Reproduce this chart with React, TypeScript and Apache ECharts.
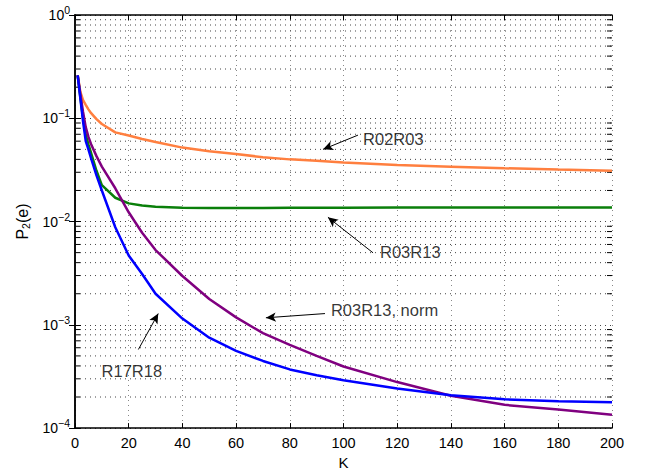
import React, { useEffect, useRef } from "react";
import * as echarts from "echarts";

// Number of users K on the horizontal axis
const kValues = [1, 2, 3, 4, 5, 6, 8, 10, 15, 20, 25, 30, 40, 50, 60, 70, 80, 90, 100, 120, 140, 160, 180, 200];

// Error probability P2(e) for each receiver configuration
const r02r03 = [0.26, 0.18, 0.15, 0.135, 0.122, 0.112, 0.098, 0.088, 0.073, 0.068, 0.063, 0.059, 0.052, 0.048, 0.045, 0.042, 0.04, 0.0387, 0.0374, 0.0352, 0.034, 0.0328, 0.0319, 0.0311];
const r03r13 = [0.26, 0.16, 0.1, 0.069, 0.056, 0.046, 0.031, 0.0225, 0.017, 0.015, 0.0143, 0.0139, 0.0136, 0.0135, 0.0135, 0.0135, 0.0136, 0.0136, 0.0136, 0.0137, 0.0137, 0.0137, 0.0137, 0.0137];
const r03r13Norm = [0.26, 0.17, 0.115, 0.082, 0.066, 0.056, 0.043, 0.034, 0.021, 0.0123, 0.0078, 0.0053, 0.00297, 0.00178, 0.00118, 0.00083, 0.00064, 0.0005, 0.000395, 0.000279, 0.000206, 0.000168, 0.000151, 0.000135];
const r17r18 = [0.26, 0.155, 0.093, 0.06, 0.05, 0.041, 0.028, 0.02, 0.0088, 0.0047, 0.0031, 0.002, 0.00115, 0.00075, 0.00056, 0.000447, 0.00037, 0.000325, 0.00029, 0.000242, 0.000208, 0.00019, 0.000182, 0.000178];

// Axis ranges and tick labels
const xTicks = [0, 20, 40, 60, 80, 100, 120, 140, 160, 180, 200];
const yDecades = [-4, -3, -2, -1, 0];

// Callout texts with their anchor, arrow tail and arrow head (data units)
const calloutTexts = ["R02R03", "R03R13", "R03R13, norm", "R17R18"];
const calloutAnchors = [[107.3, 0.0625], [113.6, 0.00512], [95.3, 0.00138], [9.9, 0.000355]];
const arrowTails = [[105.4, 0.0687], [111, 0.00498], [93.1, 0.001285], [23.6, 0.000577]];
const arrowHeads = [[92.4, 0.05], [94.2, 0.011], [71.1, 0.00117], [31.0, 0.001285]];

const FONT = "'Liberation Sans', Arial, Helvetica, sans-serif";

const xMin = xTicks[0];
const xMax = xTicks[xTicks.length - 1];
const yMin = Math.pow(10, yDecades[0]);
const yMax = Math.pow(10, yDecades[yDecades.length - 1]);

// Minor log ticks 2..9 within every decade
const minorValues: number[] = [];
for (let i = 0; i < yDecades.length - 1; i++) {
  for (let m = 2; m <= 9; m++) minorValues.push(m * Math.pow(10, yDecades[i]));
}

const pairs = (ys: number[]) => kValues.map((k, i) => [k, ys[i]]);

const expLabel = (v: number) => {
  const e = Math.round(Math.log10(v));
  const s = e < 0 ? "\u2212" + -e : String(e);
  return `{b|10}{sup|${s}}`;
};

export default function App() {
  const ref = useRef<HTMLDivElement>(null);

  useEffect(() => {
    if (!ref.current) return;
    const chart = echarts.init(ref.current, undefined, { renderer: "svg" });

    const dotted = { color: "#444", width: 1, type: [1, 4] as number[] };

    const lineSeries = (name: string, ys: number[], color: string) => ({
      name,
      type: "line",
      data: pairs(ys),
      showSymbol: false,
      symbol: "none",
      lineStyle: { color, width: 2.5 },
      z: 5,
      silent: true,
    });

    chart.setOption({
      animation: false,
      backgroundColor: "#fff",
      textStyle: { fontFamily: FONT },
      grid: { left: 75, right: 36, top: 15, bottom: 38, containLabel: false },
      xAxis: [
        {
          type: "value",
          min: xMin,
          max: xMax,
          interval: 20,
          name: "K",
          nameLocation: "middle",
          nameGap: 23,
          nameTextStyle: { fontSize: 15, color: "#000", fontFamily: FONT },
          axisLine: { lineStyle: { color: "#000", width: 1.5 } },
          axisTick: { inside: true, length: 5, lineStyle: { color: "#000" } },
          axisLabel: { fontSize: 14.5, color: "#000", margin: 7, fontFamily: FONT },
          splitLine: { show: true, lineStyle: { color: "#888", width: 1, type: [1, 4] } },
        },
        {
          type: "value",
          position: "top",
          min: xMin,
          max: xMax,
          interval: 20,
          axisLine: { lineStyle: { color: "#000", width: 1.5 } },
          axisTick: { inside: true, length: 5, lineStyle: { color: "#000" } },
          axisLabel: { show: false },
          splitLine: { show: false },
        },
      ],
      yAxis: [
        {
          type: "log",
          logBase: 10,
          min: yMin,
          max: yMax,
          splitNumber: 4,
          name: "{p|P}{s|2}{p|(e)}",
          nameLocation: "middle",
          nameGap: 42,
          nameTextStyle: {
            color: "#000",
            fontFamily: FONT,
            rich: {
              p: { fontSize: 16, color: "#000", fontFamily: FONT },
              s: { fontSize: 10.5, color: "#000", fontFamily: FONT, padding: [8, 0, 0, 0] },
            },
          },
          axisLine: { lineStyle: { color: "#000", width: 1.5 } },
          axisTick: { inside: true, length: 6, lineStyle: { color: "#000" } },
          axisLabel: {
            margin: 5,
            formatter: expLabel,
            rich: {
              b: { fontSize: 14, color: "#000", fontFamily: FONT },
              sup: { fontSize: 10.5, color: "#000", fontFamily: FONT, padding: [0, 0, 10, 0] },
            },
          },
          splitLine: { show: true, lineStyle: dotted },
        },
        {
          type: "log",
          logBase: 10,
          position: "right",
          min: yMin,
          max: yMax,
          splitNumber: 4,
          axisLine: { lineStyle: { color: "#000", width: 1.5 } },
          axisTick: { inside: true, length: 6, lineStyle: { color: "#000" } },
          axisLabel: { show: false },
          splitLine: { show: false },
        },
      ],
      series: [
        {
          // minor grid lines and minor ticks on both vertical axes
          type: "custom",
          silent: true,
          z: 1,
          data: minorValues.map((v) => [xMin, v]),
          encode: { x: 0, y: 1 },
          renderItem: (_params: any, api: any) => {
            const v = api.value(1);
            const p0 = api.coord([xMin, v]);
            const p1 = api.coord([xMax, v]);
            return {
              type: "group",
              children: [
                {
                  type: "line",
                  shape: { x1: p0[0], y1: p0[1], x2: p1[0], y2: p1[1] },
                  style: { stroke: "#444", lineWidth: 1, lineDash: [1, 4] },
                },
                {
                  type: "line",
                  shape: { x1: p0[0], y1: p0[1], x2: p0[0] + 5, y2: p0[1] },
                  style: { stroke: "#000", lineWidth: 1 },
                },
                {
                  type: "line",
                  shape: { x1: p1[0] - 5, y1: p1[1], x2: p1[0], y2: p1[1] },
                  style: { stroke: "#000", lineWidth: 1 },
                },
              ],
            };
          },
        },
        lineSeries("R02R03", r02r03, "#FF7F3F"),
        lineSeries("R03R13", r03r13, "#0A7F0A"),
        lineSeries("R03R13, norm", r03r13Norm, "#800080"),
        lineSeries("R17R18", r17r18, "#0000FF"),
        {
          // callout texts
          type: "scatter",
          silent: true,
          z: 6,
          symbolSize: 0,
          data: calloutAnchors.map((p, i) => ({ value: p, name: calloutTexts[i] })),
          label: {
            show: true,
            position: "right",
            distance: 0,
            formatter: (p: any) => p.name,
            fontSize: 16.5,
            color: "#000",
            fontFamily: FONT,
          },
          markLine: {
            silent: true,
            symbol: ["none", "arrow"],
            symbolSize: [7, 10],
            label: { show: false },
            lineStyle: { color: "#000", width: 1, type: "solid" },
            emphasis: { disabled: true },
            data: arrowTails.map((t, i) => [{ coord: t }, { coord: arrowHeads[i] }]),
          },
        },
      ],
    });

    return () => chart.dispose();
  }, []);

  return <div ref={ref} style={{ width: 648, height: 475, position: "absolute", left: 0, top: 0 }} />;
}
